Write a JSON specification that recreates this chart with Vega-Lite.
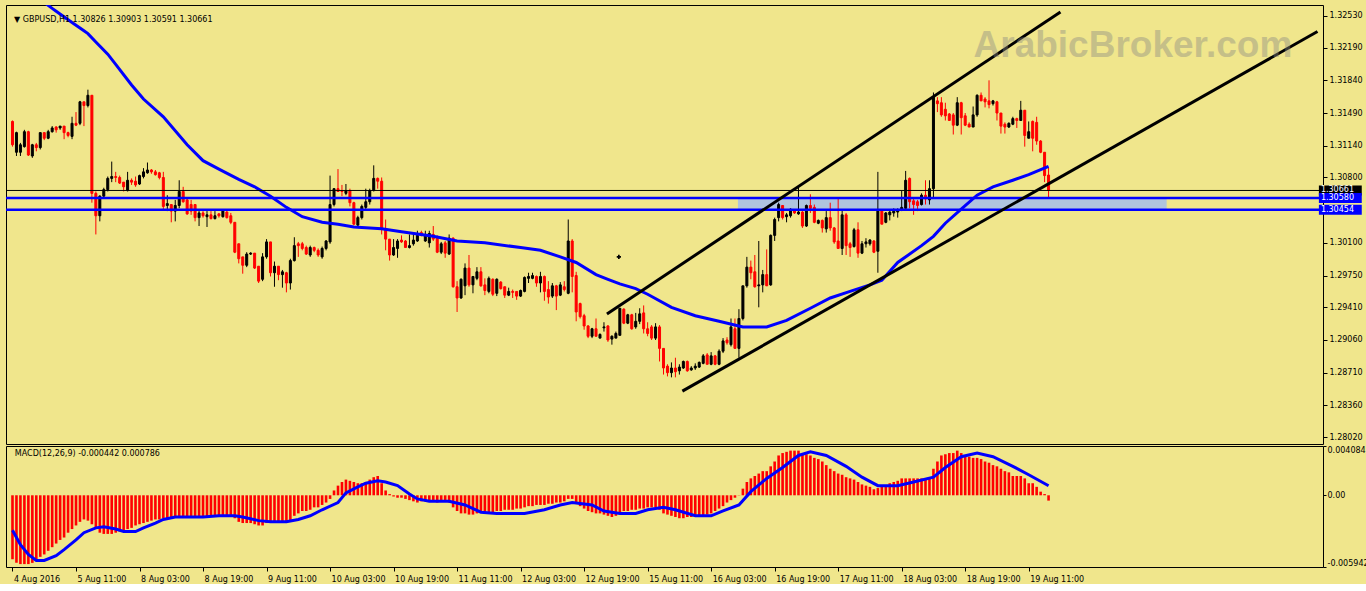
{
"$schema":"https://vega.github.io/schema/vega-lite/v6.json",
"background":"#F0E68C",
"padding":{"left":4,"top":4,"right":0,"bottom":0},
"spacing":2,
"bounds":"flush",
"config":{"view":{"stroke":"#000000","strokeWidth":1},
"axis":{"labelFont":"DejaVu Sans","labelFontSize":8,"labelColor":"#000000","tickColor":"#000000","tickSize":4,"labelPadding":2,"domain":false,"grid":false,"title":null,"labelOverlap":false}},
"datasets":{
"levels":[{"p":1.30661,"k":"bid","t":"1.30661"},{"p":1.3058,"k":"lvl","t":"1.30580"},{"p":1.30454,"k":"lvl","t":"1.30454"}],
"zone":[{"i1":182.75,"i2":290.75,"p1":1.30454,"p2":1.3058}],
"trend":[{"g":"upper","i":149.75,"p":1.29339},{"g":"upper","i":264,"p":1.32572},{"g":"lower","i":168.75,"p":1.28512},{"g":"lower","i":328.75,"p":1.32363}],
"marker":[{"i":152.75,"p":1.2995}],
"ma":[{"i":0,"v":1.3293},{"i":5,"v":1.3277},{"i":10,"v":1.3261},{"i":11,"v":1.3258},{"i":15,"v":1.3246},{"i":18,"v":1.3237},{"i":19,"v":1.3234},{"i":21,"v":1.3225},{"i":24,"v":1.3212},{"i":26,"v":1.3201},{"i":30,"v":1.3179},{"i":33,"v":1.3164},{"i":38,"v":1.3145},{"i":44,"v":1.3115},{"i":48,"v":1.3098},{"i":52,"v":1.3089},{"i":57,"v":1.3078},{"i":61,"v":1.307},{"i":65,"v":1.306},{"i":69,"v":1.3048},{"i":73,"v":1.3038},{"i":78,"v":1.3032},{"i":82,"v":1.303},{"i":86,"v":1.3027},{"i":93,"v":1.3025},{"i":98,"v":1.3022},{"i":106,"v":1.3017},{"i":112,"v":1.3012},{"i":119,"v":1.301},{"i":128,"v":1.3005},{"i":133,"v":1.3002},{"i":138,"v":1.2995},{"i":142,"v":1.2989},{"i":147,"v":1.2976},{"i":150,"v":1.2971},{"i":153,"v":1.2966},{"i":157,"v":1.2961},{"i":160,"v":1.2955},{"i":166,"v":1.2941},{"i":172,"v":1.2932},{"i":178,"v":1.2926},{"i":184,"v":1.292},{"i":190,"v":1.292},{"i":195,"v":1.2927},{"i":201,"v":1.294},{"i":206,"v":1.2951},{"i":211,"v":1.2958},{"i":216,"v":1.2965},{"i":219,"v":1.297},{"i":223,"v":1.2989},{"i":229,"v":1.3007},{"i":232,"v":1.3017},{"i":235,"v":1.3031},{"i":239,"v":1.3046},{"i":243,"v":1.3061},{"i":247,"v":1.307},{"i":252,"v":1.3077},{"i":256,"v":1.3083},{"i":261,"v":1.3092}],
"signal":[{"i":0,"s":-0.0029},{"i":2,"s":-0.0041},{"i":4,"s":-0.0049},{"i":6,"s":-0.0054},{"i":8,"s":-0.0054},{"i":11,"s":-0.005},{"i":13,"s":-0.0045},{"i":16,"s":-0.0037},{"i":18,"s":-0.0031},{"i":21,"s":-0.0027},{"i":23,"s":-0.0026},{"i":26,"s":-0.0028},{"i":28,"s":-0.003},{"i":31,"s":-0.003},{"i":33,"s":-0.0027},{"i":36,"s":-0.0023},{"i":38,"s":-0.002},{"i":41,"s":-0.0018},{"i":44,"s":-0.0018},{"i":48,"s":-0.0018},{"i":52,"s":-0.0017},{"i":56,"s":-0.0017},{"i":58,"s":-0.0018},{"i":62,"s":-0.0021},{"i":65,"s":-0.0022},{"i":69,"s":-0.0022},{"i":72,"s":-0.002},{"i":75,"s":-0.0017},{"i":78,"s":-0.0012},{"i":82,"s":-0.0006},{"i":84,"s":0.0002},{"i":87,"s":0.0007},{"i":89,"s":0.001},{"i":92,"s":0.0012},{"i":94,"s":0.0011},{"i":97,"s":0.0008},{"i":100,"s":0.0001},{"i":102,"s":-0.0003},{"i":105,"s":-0.0005},{"i":110,"s":-0.0005},{"i":114,"s":-0.0008},{"i":118,"s":-0.0014},{"i":122,"s":-0.0015},{"i":129,"s":-0.0015},{"i":134,"s":-0.0012},{"i":138,"s":-0.0008},{"i":141,"s":-0.0006},{"i":146,"s":-0.0008},{"i":149,"s":-0.0013},{"i":153,"s":-0.0015},{"i":157,"s":-0.0015},{"i":160,"s":-0.0012},{"i":164,"s":-0.001},{"i":167,"s":-0.0012},{"i":172,"s":-0.0017},{"i":176,"s":-0.0017},{"i":179,"s":-0.0013},{"i":183,"s":-0.0008},{"i":186,"s":0.0003},{"i":190,"s":0.0014},{"i":194,"s":0.0023},{"i":198,"s":0.0033},{"i":201,"s":0.0036},{"i":205,"s":0.0033},{"i":210,"s":0.0024},{"i":214,"s":0.0015},{"i":218,"s":0.0008},{"i":223,"s":0.0008},{"i":227,"s":0.0011},{"i":232,"s":0.0015},{"i":235,"s":0.0023},{"i":239,"s":0.0032},{"i":243,"s":0.0035},{"i":247,"s":0.0032},{"i":252,"s":0.0024},{"i":256,"s":0.0017},{"i":261,"s":0.000786}],
"bars":[
{"i":0,"o":1.314,"h":1.3141,"l":1.3113,"c":1.3115,"m":-0.0053},
{"i":1,"o":1.3107,"h":1.3129,"l":1.3103,"c":1.3128,"m":-0.0056},
{"i":2,"o":1.3107,"h":1.3117,"l":1.3103,"c":1.3115,"m":-0.0057},
{"i":3,"o":1.3113,"h":1.3131,"l":1.3112,"c":1.3129,"m":-0.0057},
{"i":4,"o":1.3129,"h":1.313,"l":1.3103,"c":1.3104,"m":-0.0057},
{"i":5,"o":1.3103,"h":1.3116,"l":1.3101,"c":1.3115,"m":-0.0056},
{"i":6,"o":1.3115,"h":1.3117,"l":1.3108,"c":1.3112,"m":-0.0054},
{"i":7,"o":1.3112,"h":1.3128,"l":1.311,"c":1.3128,"m":-0.0051},
{"i":8,"o":1.3128,"h":1.3128,"l":1.312,"c":1.3122,"m":-0.0049},
{"i":9,"o":1.3122,"h":1.3131,"l":1.3121,"c":1.3129,"m":-0.0046},
{"i":10,"o":1.3129,"h":1.3135,"l":1.3128,"c":1.3133,"m":-0.0043},
{"i":11,"o":1.3134,"h":1.3135,"l":1.3128,"c":1.3131,"m":-0.004},
{"i":12,"o":1.3133,"h":1.3135,"l":1.3131,"c":1.3135,"m":-0.0037},
{"i":13,"o":1.3135,"h":1.3135,"l":1.3121,"c":1.3128,"m":-0.0035},
{"i":14,"o":1.3128,"h":1.3129,"l":1.3123,"c":1.3125,"m":-0.0031},
{"i":15,"o":1.3124,"h":1.3145,"l":1.3121,"c":1.3138,"m":-0.0028},
{"i":16,"o":1.3138,"h":1.315,"l":1.3135,"c":1.3136,"m":-0.0025},
{"i":17,"o":1.3138,"h":1.3162,"l":1.3136,"c":1.3161,"m":-0.0022},
{"i":18,"o":1.3161,"h":1.3161,"l":1.3135,"c":1.3157,"m":-0.002},
{"i":19,"o":1.3157,"h":1.3174,"l":1.3155,"c":1.3168,"m":-0.0021},
{"i":20,"o":1.3168,"h":1.3168,"l":1.3053,"c":1.3063,"m":-0.0024},
{"i":21,"o":1.3063,"h":1.3065,"l":1.3019,"c":1.3039,"m":-0.0028},
{"i":22,"o":1.3039,"h":1.3061,"l":1.3033,"c":1.306,"m":-0.0031},
{"i":23,"o":1.306,"h":1.3069,"l":1.3058,"c":1.3067,"m":-0.0032},
{"i":24,"o":1.3067,"h":1.3081,"l":1.3065,"c":1.3079,"m":-0.0032},
{"i":25,"o":1.3079,"h":1.3097,"l":1.3075,"c":1.3081,"m":-0.0032},
{"i":26,"o":1.3081,"h":1.3086,"l":1.3075,"c":1.308,"m":-0.0031},
{"i":27,"o":1.308,"h":1.3082,"l":1.3073,"c":1.3074,"m":-0.003},
{"i":28,"o":1.3075,"h":1.3075,"l":1.3065,"c":1.307,"m":-0.0029},
{"i":29,"o":1.3066,"h":1.3086,"l":1.3065,"c":1.3077,"m":-0.0028},
{"i":30,"o":1.3077,"h":1.3079,"l":1.3072,"c":1.3075,"m":-0.0027},
{"i":31,"o":1.3076,"h":1.3081,"l":1.307,"c":1.3072,"m":-0.0025},
{"i":32,"o":1.3073,"h":1.3083,"l":1.3072,"c":1.3082,"m":-0.0024},
{"i":33,"o":1.3081,"h":1.309,"l":1.3079,"c":1.3086,"m":-0.0023},
{"i":34,"o":1.3085,"h":1.3096,"l":1.3084,"c":1.3088,"m":-0.0022},
{"i":35,"o":1.3088,"h":1.3089,"l":1.3084,"c":1.3086,"m":-0.0021},
{"i":36,"o":1.3086,"h":1.3088,"l":1.3082,"c":1.3083,"m":-0.002},
{"i":37,"o":1.3085,"h":1.3086,"l":1.3078,"c":1.308,"m":-0.002},
{"i":38,"o":1.308,"h":1.3086,"l":1.3045,"c":1.3049,"m":-0.0019},
{"i":39,"o":1.305,"h":1.3061,"l":1.3044,"c":1.3052,"m":-0.0019},
{"i":40,"o":1.3051,"h":1.3051,"l":1.3032,"c":1.3044,"m":-0.0019},
{"i":41,"o":1.3044,"h":1.3056,"l":1.3033,"c":1.305,"m":-0.0018},
{"i":42,"o":1.305,"h":1.3077,"l":1.3047,"c":1.3065,"m":-0.0018},
{"i":43,"o":1.3065,"h":1.307,"l":1.3053,"c":1.3054,"m":-0.0018},
{"i":44,"o":1.3056,"h":1.3058,"l":1.304,"c":1.3041,"m":-0.0018},
{"i":45,"o":1.3051,"h":1.3056,"l":1.304,"c":1.3044,"m":-0.0018},
{"i":46,"o":1.3051,"h":1.3051,"l":1.3033,"c":1.3037,"m":-0.0018},
{"i":47,"o":1.3037,"h":1.3046,"l":1.3028,"c":1.3042,"m":-0.0018},
{"i":48,"o":1.3042,"h":1.3044,"l":1.3037,"c":1.3039,"m":-0.0018},
{"i":49,"o":1.3038,"h":1.3044,"l":1.3027,"c":1.304,"m":-0.0018},
{"i":50,"o":1.304,"h":1.3044,"l":1.3035,"c":1.3036,"m":-0.0018},
{"i":51,"o":1.3036,"h":1.3044,"l":1.3035,"c":1.3039,"m":-0.0017},
{"i":52,"o":1.3041,"h":1.3042,"l":1.3037,"c":1.3039,"m":-0.0017},
{"i":53,"o":1.3038,"h":1.3046,"l":1.3037,"c":1.3044,"m":-0.0017},
{"i":54,"o":1.3043,"h":1.3044,"l":1.3036,"c":1.3037,"m":-0.0017},
{"i":55,"o":1.3039,"h":1.3042,"l":1.303,"c":1.3032,"m":-0.0017},
{"i":56,"o":1.3032,"h":1.3032,"l":1.2999,"c":1.3,"m":-0.0019},
{"i":57,"o":1.3009,"h":1.3009,"l":1.2988,"c":1.2993,"m":-0.0022},
{"i":58,"o":1.2995,"h":1.2995,"l":1.2977,"c":1.2986,"m":-0.0023},
{"i":59,"o":1.2986,"h":1.3,"l":1.2984,"c":1.2998,"m":-0.0023},
{"i":60,"o":1.2998,"h":1.3,"l":1.2997,"c":1.2999,"m":-0.0023},
{"i":61,"o":1.2999,"h":1.2999,"l":1.2982,"c":1.2983,"m":-0.0024},
{"i":62,"o":1.2985,"h":1.2985,"l":1.2967,"c":1.2969,"m":-0.0025},
{"i":63,"o":1.2971,"h":1.2999,"l":1.2969,"c":1.2995,"m":-0.0025},
{"i":64,"o":1.2995,"h":1.3014,"l":1.2993,"c":1.3011,"m":-0.0023},
{"i":65,"o":1.3011,"h":1.3011,"l":1.2974,"c":1.2978,"m":-0.0022},
{"i":66,"o":1.2978,"h":1.299,"l":1.2963,"c":1.2985,"m":-0.0022},
{"i":67,"o":1.2985,"h":1.2985,"l":1.297,"c":1.2976,"m":-0.0022},
{"i":68,"o":1.2976,"h":1.2981,"l":1.2962,"c":1.2979,"m":-0.0022},
{"i":69,"o":1.2978,"h":1.2979,"l":1.2957,"c":1.2967,"m":-0.0022},
{"i":70,"o":1.2967,"h":1.2993,"l":1.296,"c":1.2991,"m":-0.0021},
{"i":71,"o":1.2991,"h":1.3016,"l":1.299,"c":1.3007,"m":-0.0017},
{"i":72,"o":1.3009,"h":1.3011,"l":1.2995,"c":1.3007,"m":-0.0015},
{"i":73,"o":1.3009,"h":1.3011,"l":1.3002,"c":1.3004,"m":-0.0013},
{"i":74,"o":1.3005,"h":1.3007,"l":1.2997,"c":1.2998,"m":-0.0013},
{"i":75,"o":1.2997,"h":1.3007,"l":1.2995,"c":1.3005,"m":-0.0012},
{"i":76,"o":1.3005,"h":1.3006,"l":1.3,"c":1.3002,"m":-0.001},
{"i":77,"o":1.3002,"h":1.3004,"l":1.2995,"c":1.2997,"m":-0.001},
{"i":78,"o":1.2995,"h":1.3006,"l":1.2993,"c":1.3004,"m":-0.0008},
{"i":79,"o":1.3004,"h":1.3013,"l":1.3002,"c":1.3012,"m":-0.0006},
{"i":80,"o":1.3011,"h":1.3082,"l":1.3009,"c":1.3051,"m":-0.0003},
{"i":81,"o":1.3051,"h":1.3068,"l":1.3049,"c":1.3068,"m":0.0004},
{"i":82,"o":1.3068,"h":1.3089,"l":1.3065,"c":1.3065,"m":0.0008},
{"i":83,"o":1.3066,"h":1.3072,"l":1.306,"c":1.3065,"m":0.0011},
{"i":84,"o":1.3063,"h":1.3073,"l":1.3061,"c":1.3066,"m":0.0013},
{"i":85,"o":1.3066,"h":1.3068,"l":1.3049,"c":1.3053,"m":0.0012},
{"i":86,"o":1.3053,"h":1.3054,"l":1.3029,"c":1.303,"m":0.0011},
{"i":87,"o":1.3029,"h":1.3039,"l":1.3026,"c":1.3037,"m":0.001},
{"i":88,"o":1.3037,"h":1.3051,"l":1.3035,"c":1.3049,"m":0.001},
{"i":89,"o":1.3048,"h":1.3068,"l":1.3046,"c":1.3054,"m":0.0011},
{"i":90,"o":1.3054,"h":1.3068,"l":1.3051,"c":1.3066,"m":0.0013},
{"i":91,"o":1.3066,"h":1.3093,"l":1.3065,"c":1.3079,"m":0.0015},
{"i":92,"o":1.3079,"h":1.308,"l":1.3068,"c":1.3076,"m":0.0016},
{"i":93,"o":1.3076,"h":1.308,"l":1.3019,"c":1.3025,"m":0.001},
{"i":94,"o":1.3025,"h":1.3035,"l":1.3002,"c":1.3014,"m":0.0004},
{"i":95,"o":1.3014,"h":1.3014,"l":1.2991,"c":1.2997,"m":0.0001},
{"i":96,"o":1.2997,"h":1.3014,"l":1.2996,"c":1.3005,"m":-0.0001},
{"i":97,"o":1.3004,"h":1.3014,"l":1.2994,"c":1.3012,"m":-0.0002},
{"i":98,"o":1.3013,"h":1.3018,"l":1.301,"c":1.3011,"m":-0.0002},
{"i":99,"o":1.3012,"h":1.3013,"l":1.3005,"c":1.3005,"m":-0.0003},
{"i":100,"o":1.3005,"h":1.3019,"l":1.3004,"c":1.3007,"m":-0.0004},
{"i":101,"o":1.3009,"h":1.3019,"l":1.3007,"c":1.3013,"m":-0.0005},
{"i":102,"o":1.3012,"h":1.3023,"l":1.3011,"c":1.3018,"m":-0.0006},
{"i":103,"o":1.3021,"h":1.3023,"l":1.3017,"c":1.3018,"m":-0.0005},
{"i":104,"o":1.3012,"h":1.3023,"l":1.3011,"c":1.3018,"m":-0.0005},
{"i":105,"o":1.301,"h":1.3023,"l":1.3005,"c":1.302,"m":-0.0005},
{"i":106,"o":1.3019,"h":1.3028,"l":1.3012,"c":1.3014,"m":-0.0005},
{"i":107,"o":1.3015,"h":1.3018,"l":1.2999,"c":1.3,"m":-0.0006},
{"i":108,"o":1.3,"h":1.3011,"l":1.2998,"c":1.3009,"m":-0.0005},
{"i":109,"o":1.301,"h":1.3012,"l":1.2994,"c":1.2999,"m":-0.0005},
{"i":110,"o":1.2998,"h":1.3019,"l":1.2997,"c":1.3015,"m":-0.0006},
{"i":111,"o":1.3015,"h":1.3016,"l":1.2962,"c":1.2963,"m":-0.001},
{"i":112,"o":1.2963,"h":1.2969,"l":1.2936,"c":1.2951,"m":-0.0013},
{"i":113,"o":1.2951,"h":1.2972,"l":1.295,"c":1.2971,"m":-0.0015},
{"i":114,"o":1.2964,"h":1.2988,"l":1.2954,"c":1.2983,"m":-0.0015},
{"i":115,"o":1.2983,"h":1.2997,"l":1.2963,"c":1.2965,"m":-0.0016},
{"i":116,"o":1.2965,"h":1.2974,"l":1.2956,"c":1.2974,"m":-0.0016},
{"i":117,"o":1.2972,"h":1.2984,"l":1.297,"c":1.2979,"m":-0.0015},
{"i":118,"o":1.2979,"h":1.2984,"l":1.2963,"c":1.2964,"m":-0.0014},
{"i":119,"o":1.2965,"h":1.2972,"l":1.2954,"c":1.2959,"m":-0.0015},
{"i":120,"o":1.2958,"h":1.2974,"l":1.2956,"c":1.2972,"m":-0.0014},
{"i":121,"o":1.2971,"h":1.2972,"l":1.2953,"c":1.2955,"m":-0.0014},
{"i":122,"o":1.2956,"h":1.2972,"l":1.2953,"c":1.2971,"m":-0.0013},
{"i":123,"o":1.2968,"h":1.2969,"l":1.296,"c":1.2961,"m":-0.0013},
{"i":124,"o":1.2963,"h":1.2963,"l":1.2951,"c":1.2954,"m":-0.0012},
{"i":125,"o":1.2954,"h":1.2962,"l":1.2953,"c":1.2958,"m":-0.0012},
{"i":126,"o":1.2958,"h":1.296,"l":1.2951,"c":1.2957,"m":-0.0012},
{"i":127,"o":1.2958,"h":1.2958,"l":1.2949,"c":1.2953,"m":-0.0011},
{"i":128,"o":1.2953,"h":1.296,"l":1.2952,"c":1.2959,"m":-0.0011},
{"i":129,"o":1.2958,"h":1.2974,"l":1.2957,"c":1.2973,"m":-0.001},
{"i":130,"o":1.2972,"h":1.2978,"l":1.2967,"c":1.2974,"m":-0.0009},
{"i":131,"o":1.2972,"h":1.2978,"l":1.2971,"c":1.2975,"m":-0.0009},
{"i":132,"o":1.2974,"h":1.2975,"l":1.2963,"c":1.2967,"m":-0.0008},
{"i":133,"o":1.2967,"h":1.2979,"l":1.2957,"c":1.2974,"m":-0.0008},
{"i":134,"o":1.2974,"h":1.2975,"l":1.2948,"c":1.2958,"m":-0.0008},
{"i":135,"o":1.296,"h":1.2969,"l":1.2945,"c":1.2952,"m":-0.0007},
{"i":136,"o":1.2953,"h":1.2967,"l":1.2951,"c":1.2964,"m":-0.0007},
{"i":137,"o":1.2964,"h":1.2965,"l":1.2938,"c":1.2953,"m":-0.0006},
{"i":138,"o":1.2954,"h":1.2968,"l":1.2953,"c":1.2965,"m":-0.0006},
{"i":139,"o":1.2963,"h":1.2969,"l":1.2958,"c":1.296,"m":-0.0005},
{"i":140,"o":1.2956,"h":1.3035,"l":1.2955,"c":1.3012,"m":-0.0003},
{"i":141,"o":1.3012,"h":1.3014,"l":1.2957,"c":1.2974,"m":-0.0003},
{"i":142,"o":1.2975,"h":1.2979,"l":1.2926,"c":1.2936,"m":-0.0006},
{"i":143,"o":1.2945,"h":1.2946,"l":1.2929,"c":1.2931,"m":-0.0009},
{"i":144,"o":1.2932,"h":1.2934,"l":1.2917,"c":1.2921,"m":-0.0011},
{"i":145,"o":1.2921,"h":1.2922,"l":1.2908,"c":1.291,"m":-0.0013},
{"i":146,"o":1.291,"h":1.2919,"l":1.2908,"c":1.2918,"m":-0.0014},
{"i":147,"o":1.2918,"h":1.2929,"l":1.291,"c":1.291,"m":-0.0015},
{"i":148,"o":1.2908,"h":1.2913,"l":1.2908,"c":1.2912,"m":-0.0015},
{"i":149,"o":1.2919,"h":1.2925,"l":1.2915,"c":1.292,"m":-0.0016},
{"i":150,"o":1.2921,"h":1.2922,"l":1.2904,"c":1.2906,"m":-0.0017},
{"i":151,"o":1.2907,"h":1.2911,"l":1.2901,"c":1.291,"m":-0.0018},
{"i":152,"o":1.2908,"h":1.2915,"l":1.2908,"c":1.2913,"m":-0.0017},
{"i":153,"o":1.2911,"h":1.294,"l":1.2911,"c":1.294,"m":-0.0014},
{"i":154,"o":1.2939,"h":1.294,"l":1.2923,"c":1.2924,"m":-0.0013},
{"i":155,"o":1.2924,"h":1.2934,"l":1.2923,"c":1.2933,"m":-0.0013},
{"i":156,"o":1.2933,"h":1.2934,"l":1.2917,"c":1.2918,"m":-0.0012},
{"i":157,"o":1.292,"h":1.2935,"l":1.2918,"c":1.2926,"m":-0.0012},
{"i":158,"o":1.2926,"h":1.294,"l":1.2923,"c":1.2934,"m":-0.0011},
{"i":159,"o":1.2935,"h":1.2943,"l":1.2913,"c":1.2918,"m":-0.0011},
{"i":160,"o":1.2918,"h":1.2925,"l":1.291,"c":1.2913,"m":-0.001},
{"i":161,"o":1.292,"h":1.2922,"l":1.2906,"c":1.2908,"m":-0.001},
{"i":162,"o":1.2908,"h":1.2924,"l":1.2906,"c":1.292,"m":-0.001},
{"i":163,"o":1.292,"h":1.2922,"l":1.2883,"c":1.2897,"m":-0.0012},
{"i":164,"o":1.2897,"h":1.2897,"l":1.2869,"c":1.2876,"m":-0.0015},
{"i":165,"o":1.2878,"h":1.288,"l":1.2867,"c":1.2871,"m":-0.0016},
{"i":166,"o":1.2871,"h":1.2882,"l":1.2866,"c":1.2876,"m":-0.0017},
{"i":167,"o":1.2876,"h":1.2887,"l":1.2866,"c":1.2872,"m":-0.0018},
{"i":168,"o":1.2873,"h":1.288,"l":1.2869,"c":1.2877,"m":-0.0019},
{"i":169,"o":1.2876,"h":1.2884,"l":1.2875,"c":1.2883,"m":-0.0019},
{"i":170,"o":1.2883,"h":1.2884,"l":1.2872,"c":1.2873,"m":-0.0018},
{"i":171,"o":1.2874,"h":1.2878,"l":1.2873,"c":1.2876,"m":-0.0018},
{"i":172,"o":1.2876,"h":1.2881,"l":1.2874,"c":1.2878,"m":-0.0018},
{"i":173,"o":1.2877,"h":1.2883,"l":1.2876,"c":1.2882,"m":-0.0017},
{"i":174,"o":1.2881,"h":1.2891,"l":1.288,"c":1.2889,"m":-0.0017},
{"i":175,"o":1.289,"h":1.2892,"l":1.288,"c":1.288,"m":-0.0016},
{"i":176,"o":1.288,"h":1.2893,"l":1.2879,"c":1.2889,"m":-0.0015},
{"i":177,"o":1.2889,"h":1.289,"l":1.2879,"c":1.288,"m":-0.0013},
{"i":178,"o":1.288,"h":1.2896,"l":1.2879,"c":1.2894,"m":-0.0011},
{"i":179,"o":1.2894,"h":1.2908,"l":1.2892,"c":1.2905,"m":-0.0009},
{"i":180,"o":1.2906,"h":1.2909,"l":1.2901,"c":1.2903,"m":-0.0006},
{"i":181,"o":1.2901,"h":1.2929,"l":1.2899,"c":1.292,"m":-0.0004},
{"i":182,"o":1.2918,"h":1.2929,"l":1.2897,"c":1.2897,"m":-0.0002},
{"i":183,"o":1.2897,"h":1.2939,"l":1.2887,"c":1.2929,"m":0.00002},
{"i":184,"o":1.2929,"h":1.2964,"l":1.2927,"c":1.2964,"m":0.00055},
{"i":185,"o":1.2964,"h":1.2995,"l":1.2962,"c":1.2984,"m":0.0011},
{"i":186,"o":1.2984,"h":1.2991,"l":1.2971,"c":1.2978,"m":0.0014},
{"i":187,"o":1.2979,"h":1.2997,"l":1.2962,"c":1.2963,"m":0.0016},
{"i":188,"o":1.2964,"h":1.3012,"l":1.2941,"c":1.2965,"m":0.0018},
{"i":189,"o":1.2965,"h":1.2981,"l":1.2957,"c":1.2976,"m":0.002},
{"i":190,"o":1.2976,"h":1.3003,"l":1.2964,"c":1.2964,"m":0.002},
{"i":191,"o":1.2965,"h":1.3019,"l":1.2964,"c":1.3018,"m":0.0024},
{"i":192,"o":1.3018,"h":1.3037,"l":1.3012,"c":1.3035,"m":0.0028},
{"i":193,"o":1.3037,"h":1.3053,"l":1.3033,"c":1.3051,"m":0.0033},
{"i":194,"o":1.305,"h":1.305,"l":1.3035,"c":1.3037,"m":0.0035},
{"i":195,"o":1.3038,"h":1.3042,"l":1.3032,"c":1.304,"m":0.0036},
{"i":196,"o":1.3039,"h":1.3047,"l":1.3037,"c":1.3046,"m":0.0037},
{"i":197,"o":1.3045,"h":1.3046,"l":1.3041,"c":1.3042,"m":0.0037},
{"i":198,"o":1.3041,"h":1.3069,"l":1.304,"c":1.3043,"m":0.0037},
{"i":199,"o":1.3043,"h":1.3044,"l":1.3026,"c":1.3028,"m":0.0035},
{"i":200,"o":1.3028,"h":1.3051,"l":1.3027,"c":1.305,"m":0.0034},
{"i":201,"o":1.305,"h":1.3062,"l":1.3042,"c":1.3047,"m":0.0033},
{"i":202,"o":1.3048,"h":1.3051,"l":1.3031,"c":1.3032,"m":0.0031},
{"i":203,"o":1.3031,"h":1.3035,"l":1.303,"c":1.3034,"m":0.003},
{"i":204,"o":1.3034,"h":1.3035,"l":1.3021,"c":1.3026,"m":0.0028},
{"i":205,"o":1.3025,"h":1.3044,"l":1.3021,"c":1.3037,"m":0.0025},
{"i":206,"o":1.3037,"h":1.3053,"l":1.3023,"c":1.3026,"m":0.0022},
{"i":207,"o":1.3026,"h":1.3027,"l":1.3009,"c":1.3011,"m":0.002},
{"i":208,"o":1.3012,"h":1.3058,"l":1.3004,"c":1.3004,"m":0.0018},
{"i":209,"o":1.3004,"h":1.3045,"l":1.2997,"c":1.304,"m":0.0017},
{"i":210,"o":1.304,"h":1.3042,"l":1.2997,"c":1.3007,"m":0.0015},
{"i":211,"o":1.3009,"h":1.3011,"l":1.2995,"c":1.3005,"m":0.0014},
{"i":212,"o":1.3006,"h":1.3026,"l":1.3005,"c":1.3024,"m":0.0013},
{"i":213,"o":1.3024,"h":1.3032,"l":1.2994,"c":1.2999,"m":0.0011},
{"i":214,"o":1.2999,"h":1.3012,"l":1.2998,"c":1.3009,"m":0.0009},
{"i":215,"o":1.3009,"h":1.3015,"l":1.3005,"c":1.3011,"m":0.0008},
{"i":216,"o":1.3009,"h":1.3014,"l":1.3007,"c":1.3013,"m":0.0007},
{"i":217,"o":1.3012,"h":1.3013,"l":1.2999,"c":1.3,"m":0.0005},
{"i":218,"o":1.3001,"h":1.3086,"l":1.2978,"c":1.3044,"m":0.0006},
{"i":219,"o":1.3044,"h":1.3044,"l":1.303,"c":1.303,"m":0.0007},
{"i":220,"o":1.3032,"h":1.3043,"l":1.3031,"c":1.3042,"m":0.0008},
{"i":221,"o":1.304,"h":1.3044,"l":1.3034,"c":1.3043,"m":0.001},
{"i":222,"o":1.3042,"h":1.3047,"l":1.3038,"c":1.3044,"m":0.0011},
{"i":223,"o":1.3043,"h":1.3047,"l":1.3037,"c":1.3044,"m":0.0012},
{"i":224,"o":1.3045,"h":1.3066,"l":1.3044,"c":1.3048,"m":0.0014},
{"i":225,"o":1.3047,"h":1.3087,"l":1.3045,"c":1.3077,"m":0.0014},
{"i":226,"o":1.3079,"h":1.308,"l":1.3047,"c":1.3054,"m":0.0014},
{"i":227,"o":1.3055,"h":1.3057,"l":1.304,"c":1.3051,"m":0.0014},
{"i":228,"o":1.3054,"h":1.3056,"l":1.3044,"c":1.305,"m":0.0014},
{"i":229,"o":1.3051,"h":1.3063,"l":1.305,"c":1.3061,"m":0.0014},
{"i":230,"o":1.3061,"h":1.3077,"l":1.3051,"c":1.3057,"m":0.0014},
{"i":231,"o":1.3056,"h":1.3077,"l":1.3051,"c":1.3068,"m":0.0015},
{"i":232,"o":1.3068,"h":1.3171,"l":1.3057,"c":1.3166,"m":0.0022},
{"i":233,"o":1.3162,"h":1.3166,"l":1.315,"c":1.3159,"m":0.0028},
{"i":234,"o":1.316,"h":1.3166,"l":1.3145,"c":1.3147,"m":0.0033},
{"i":235,"o":1.3153,"h":1.316,"l":1.3141,"c":1.3146,"m":0.0034},
{"i":236,"o":1.3148,"h":1.3149,"l":1.3141,"c":1.3141,"m":0.0035},
{"i":237,"o":1.3147,"h":1.3149,"l":1.3126,"c":1.3136,"m":0.0035},
{"i":238,"o":1.3136,"h":1.3166,"l":1.3135,"c":1.316,"m":0.0037},
{"i":239,"o":1.316,"h":1.3161,"l":1.3126,"c":1.3144,"m":0.0035},
{"i":240,"o":1.3146,"h":1.3149,"l":1.3135,"c":1.3136,"m":0.0033},
{"i":241,"o":1.3137,"h":1.3139,"l":1.3134,"c":1.3134,"m":0.0032},
{"i":242,"o":1.3134,"h":1.3156,"l":1.3134,"c":1.3147,"m":0.0031},
{"i":243,"o":1.3147,"h":1.3169,"l":1.3145,"c":1.3168,"m":0.0031},
{"i":244,"o":1.3168,"h":1.3171,"l":1.3162,"c":1.3162,"m":0.003},
{"i":245,"o":1.3164,"h":1.3166,"l":1.3155,"c":1.3161,"m":0.0028},
{"i":246,"o":1.3162,"h":1.3184,"l":1.3154,"c":1.3158,"m":0.0027},
{"i":247,"o":1.3159,"h":1.3163,"l":1.3157,"c":1.3162,"m":0.0025},
{"i":248,"o":1.3161,"h":1.3162,"l":1.3141,"c":1.3149,"m":0.0024},
{"i":249,"o":1.3149,"h":1.3149,"l":1.3127,"c":1.3135,"m":0.0022},
{"i":250,"o":1.3137,"h":1.3139,"l":1.3127,"c":1.3134,"m":0.002},
{"i":251,"o":1.3134,"h":1.3139,"l":1.3133,"c":1.3138,"m":0.0019},
{"i":252,"o":1.3137,"h":1.3145,"l":1.3136,"c":1.3143,"m":0.0016},
{"i":253,"o":1.3143,"h":1.3144,"l":1.3133,"c":1.3141,"m":0.0016},
{"i":254,"o":1.3141,"h":1.3162,"l":1.3141,"c":1.3152,"m":0.0016},
{"i":255,"o":1.3152,"h":1.3152,"l":1.3113,"c":1.3125,"m":0.0014},
{"i":256,"o":1.3122,"h":1.314,"l":1.3122,"c":1.3129,"m":0.001},
{"i":257,"o":1.314,"h":1.3141,"l":1.3108,"c":1.3122,"m":0.001},
{"i":258,"o":1.3139,"h":1.3145,"l":1.3115,"c":1.3119,"m":0.0007},
{"i":259,"o":1.3119,"h":1.312,"l":1.3106,"c":1.3107,"m":0.0003},
{"i":260,"o":1.3107,"h":1.3107,"l":1.3075,"c":1.3082,"m":0.0001},
{"i":261,"o":1.30826,"h":1.30903,"l":1.30591,"c":1.30661,"m":-0.000442}
]},
"vconcat":[
{"width":1317,"height":439,
"layer":[
{"data":{"name":"zone"},"mark":{"type":"rect","color":"#B0C4DE"},
"encoding":{"x":{"field":"i1","type":"quantitative","scale":{"domain":[-0.375,328.875],"nice":false,"zero":false},"axis":null},"x2":{"field":"i2"},
"y":{"field":"p1","type":"quantitative","scale":{"domain":[1.28,1.32593],"nice":false,"zero":false},"axis":{"orient":"right","values":[1.3253,1.3219,1.3184,1.3149,1.3114,1.308,1.301,1.2975,1.2941,1.2906,1.2871,1.2836,1.2802],"tickCount":30,"format":".5f","labelOverlap":false,"labelBound":false}},"y2":{"field":"p2"}}},
{"data":{"name":"bars"},"mark":{"type":"rule","strokeWidth":1},
"encoding":{"x":{"field":"i","type":"quantitative","scale":{"domain":[-0.375,328.875],"nice":false,"zero":false}},"y":{"field":"l","type":"quantitative","scale":{"domain":[1.28,1.32593],"nice":false,"zero":false}},"y2":{"field":"h"},
"color":{"condition":{"test":"datum.c < datum.o","value":"#FF0000"},"value":"#000000"}}},
{"data":{"name":"bars"},"mark":{"type":"bar","size":2,"strokeWidth":1},
"encoding":{"x":{"field":"i","type":"quantitative","scale":{"domain":[-0.375,328.875],"nice":false,"zero":false}},"y":{"field":"o","type":"quantitative","scale":{"domain":[1.28,1.32593],"nice":false,"zero":false}},"y2":{"field":"c"},
"fill":{"condition":{"test":"datum.c < datum.o","value":"#FF0000"},"value":"#000000"},
"stroke":{"condition":{"test":"datum.c < datum.o","value":"#FF0000"},"value":"#000000"}}},
{"data":{"name":"ma"},"mark":{"type":"line","color":"#0000FF","strokeWidth":3,"clip":true},
"encoding":{"x":{"field":"i","type":"quantitative","scale":{"domain":[-0.375,328.875],"nice":false,"zero":false}},"y":{"field":"v","type":"quantitative","scale":{"domain":[1.28,1.32593],"nice":false,"zero":false}}}},
{"data":{"name":"levels"},"mark":{"type":"rule"},
"encoding":{"y":{"field":"p","type":"quantitative","scale":{"domain":[1.28,1.32593],"nice":false,"zero":false}},
"color":{"condition":{"test":"datum.k == 'bid'","value":"#000000"},"value":"#0000FF"},
"strokeWidth":{"condition":{"test":"datum.k == 'bid'","value":1},"value":2.5}}},
{"data":{"name":"trend"},"mark":{"type":"line","color":"#000000","strokeWidth":3,"clip":true},
"encoding":{"x":{"field":"i","type":"quantitative","scale":{"domain":[-0.375,328.875],"nice":false,"zero":false}},"y":{"field":"p","type":"quantitative","scale":{"domain":[1.28,1.32593],"nice":false,"zero":false}},"detail":{"field":"g","type":"nominal"}}},
{"data":{"name":"marker"},"mark":{"type":"point","shape":"cross","filled":true,"color":"#000000","size":18,"opacity":1},
"encoding":{"x":{"field":"i","type":"quantitative"},"y":{"field":"p","type":"quantitative"}}},
{"data":{"values":[{}]},"mark":{"type":"text","text":"ArabicBroker.com","font":"Liberation Sans","fontWeight":"bold","fontSize":37,"color":"#8c8a84","opacity":0.42,"align":"center","baseline":"alphabetic"},
"encoding":{"x":{"datum":282.25,"type":"quantitative"},"y":{"datum":1.32091,"type":"quantitative"}}},
{"data":{"values":[{}]},"mark":{"type":"text","text":"\u25bc  GBPUSD,H1  1.30826 1.30903 1.30591 1.30661","font":"DejaVu Sans","fontSize":8,"color":"#000000","align":"left","baseline":"middle"},
"encoding":{"x":{"datum":0.4,"type":"quantitative"},"y":{"datum":1.32488,"type":"quantitative"}}},
{"data":{"name":"levels"},"mark":{"type":"bar","size":10,"clip":false},
"encoding":{"x":{"datum":329.1,"type":"quantitative"},"x2":{"datum":339.9},"y":{"field":"p","type":"quantitative"},
"color":{"condition":{"test":"datum.k == 'bid'","value":"#000000"},"value":"#0000FF"}}},
{"data":{"name":"levels"},"mark":{"type":"text","align":"left","baseline":"middle","color":"#FFFFFF","fontSize":8,"font":"DejaVu Sans","dx":2,"clip":false},
"encoding":{"x":{"datum":329.1,"type":"quantitative"},"y":{"field":"p","type":"quantitative"},"text":{"field":"t"}}}
]},
{"width":1317,"height":121,
"layer":[
{"data":{"name":"bars"},"mark":{"type":"bar","size":2.6,"color":"#FF0000"},
"encoding":{"x":{"field":"i","type":"quantitative","scale":{"domain":[-0.375,328.875],"nice":false,"zero":false},
"axis":{"orient":"bottom","values":[0,16,32,48,64,80,96,112,128,144,160,176,192,208,224,240,256],"tickCount":40,"labelAlign":"left","labelPadding":4,"labelOffset":1,"labelOverlap":false,
"labelExpr":"['4 Aug 2016','5 Aug 11:00','8 Aug 03:00','8 Aug 19:00','9 Aug 11:00','10 Aug 03:00','10 Aug 19:00','11 Aug 11:00','12 Aug 03:00','12 Aug 19:00','15 Aug 11:00','16 Aug 03:00','16 Aug 19:00','17 Aug 11:00','18 Aug 03:00','18 Aug 19:00','19 Aug 11:00'][round(datum.value/16)]"}},
"y":{"field":"m","type":"quantitative","scale":{"domain":[-0.005942,0.004084],"nice":false,"zero":false},
"axis":{"orient":"right","values":[0.004084,0,-0.005942],"tickCount":10,"labelFlush":true,"labelOverlap":false,"tickSize":3,"labelPadding":1,"labelExpr":"datum.value == 0 ? '0.00' : '' + datum.value"}},
"y2":{"datum":0}}},
{"data":{"name":"signal"},"mark":{"type":"line","color":"#0000FF","strokeWidth":3},
"encoding":{"x":{"field":"i","type":"quantitative","scale":{"domain":[-0.375,328.875],"nice":false,"zero":false}},"y":{"field":"s","type":"quantitative","scale":{"domain":[-0.005942,0.004084],"nice":false,"zero":false}}}},
{"data":{"values":[{}]},"mark":{"type":"text","text":"MACD(12,26,9) -0.000442 0.000786","font":"DejaVu Sans","fontSize":8,"color":"#000000","align":"left","baseline":"middle"},
"encoding":{"x":{"datum":0.6,"type":"quantitative"},"y":{"datum":0.00345,"type":"quantitative"}}}
]}
]}
